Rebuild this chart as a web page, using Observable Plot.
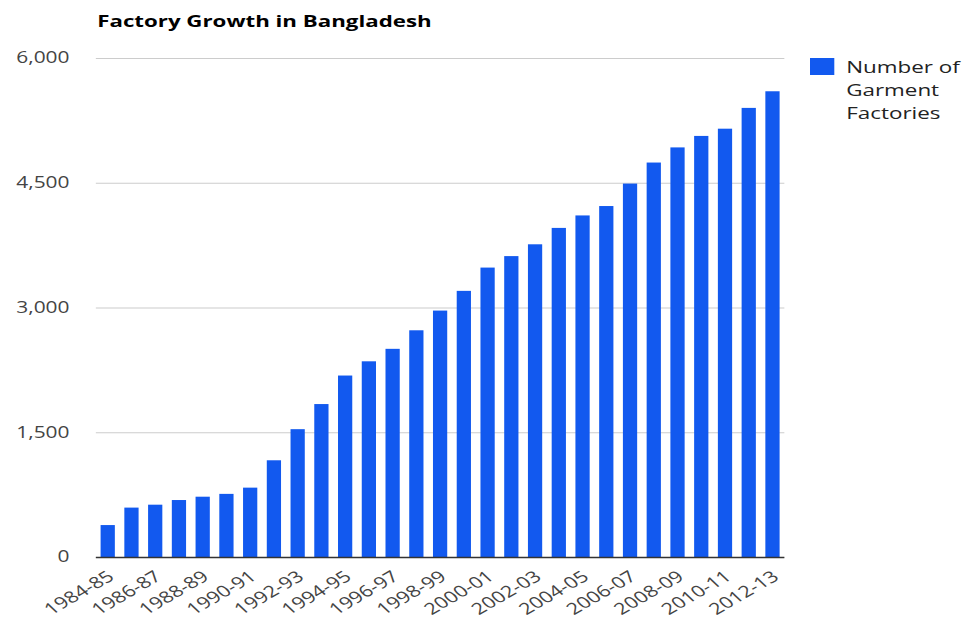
<!DOCTYPE html>
<html>
<head>
<meta charset="utf-8">
<script src="https://cdn.jsdelivr.net/npm/d3@7"></script>
<script src="https://cdn.jsdelivr.net/npm/@observablehq/plot@0.6"></script>
<style>
  html, body { margin: 0; padding: 0; background: #fff; overflow: hidden; }
  #wrap { position: relative; width: 717px; height: 621px; transform: scaleX(1.35); transform-origin: 0 0; font-family: "Open Sans", sans-serif; }
  #title { position: absolute; left: 72px; top: 9px; font-weight: 700; font-size: 16.5px; color: #000; white-space: nowrap; }
  #legend { position: absolute; left: 600px; top: 55px; display: flex; align-items: flex-start; }
  #legend .sw { width: 17.8px; height: 17px; background: #1259ef; margin-top: 3px; margin-right: 9px; }
  #legend .tx { font-size: 16.6px; line-height: 23px; color: #222; }
  #chart { position: absolute; left: 0; top: 0; }
</style>
</head>
<body>
<div id="wrap">
  <div id="chart"></div>
  <div id="title"></div>
  <div id="legend"><div class="sw"></div><div class="tx"></div></div>
</div>
<script>
const chartTitle = "Factory Growth in Bangladesh";
const seriesName = ["Number of", "Garment", "Factories"];
const periods = ["1984-85","1985-86","1986-87","1987-88","1988-89","1989-90","1990-91","1991-92","1992-93","1993-94","1994-95","1995-96","1996-97","1997-98","1998-99","1999-00","2000-01","2001-02","2002-03","2003-04","2004-05","2005-06","2006-07","2007-08","2008-09","2009-10","2010-11","2011-12","2012-13"];
const factories = [384,594,629,685,725,759,834,1163,1537,1839,2182,2353,2503,2726,2963,3200,3480,3618,3760,3957,4107,4220,4490,4743,4925,5063,5150,5400,5600];
const yTicks = [0, 1500, 3000, 4500, 6000];
const xTickLabels = periods.filter((d, i) => i % 2 === 0);

const data = periods.map((p, i) => ({period: p, count: factories[i]}));
const barColor = "#1259ef";

document.getElementById("title").textContent = chartTitle;
document.querySelector("#legend .tx").innerHTML = seriesName.join("<br>");

const chart = Plot.plot({
  width: 717,
  height: 621,
  marginTop: 58,
  marginBottom: 64,
  marginLeft: 71,
  marginRight: 136,
  style: {fontFamily: "Open Sans, sans-serif", fontSize: "15.5px", color: "#444", background: "transparent"},
  x: {domain: periods, paddingInner: 0.4, paddingOuter: 0.2, round: false, axis: null},
  y: {domain: [0, 6000], axis: null},
  marks: [
    Plot.gridY(yTicks, {stroke: "#cccccc", strokeOpacity: 1, strokeWidth: 1}),
    Plot.axisY(yTicks, {tickSize: 0, tickPadding: 20, tickFormat: d3.format(","), label: null, fontSize: 15.5}),
    Plot.barY(data, {x: "period", y: "count", fill: barColor}),
    Plot.ruleY([0], {stroke: "#333", strokeWidth: 1.5}),
    Plot.axisX(xTickLabels, {tickSize: 0, tickPadding: 17, tickRotate: -38, label: null, fontSize: 16, dx: 2})
  ]
});
document.getElementById("chart").appendChild(chart);
</script>
</body>
</html>
